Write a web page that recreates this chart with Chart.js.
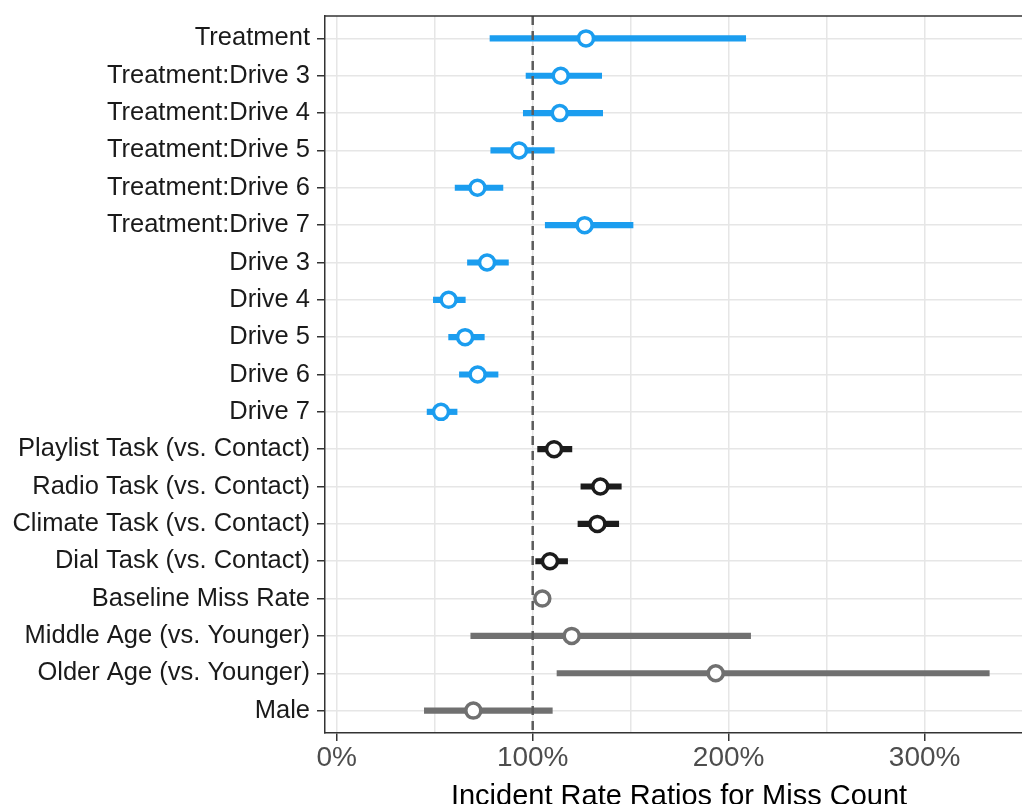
<!DOCTYPE html>
<html>
<head>
<meta charset="utf-8">
<script src="https://cdn.jsdelivr.net/npm/chart.js@4/dist/chart.umd.min.js"></script>
<style>
  html, body { margin: 0; padding: 0; background: #ffffff; overflow: hidden; }
  #wrap { width: 1022px; height: 804px; position: relative; }
</style>
</head>
<body>
<div id="wrap"><canvas id="c"></canvas></div>
<script>
// ---- data (incident rate ratios, 1 = 100%) ----
const categories = [
  'Treatment', 'Treatment:Drive 3', 'Treatment:Drive 4', 'Treatment:Drive 5',
  'Treatment:Drive 6', 'Treatment:Drive 7', 'Drive 3', 'Drive 4', 'Drive 5',
  'Drive 6', 'Drive 7', 'Playlist Task (vs. Contact)', 'Radio Task (vs. Contact)',
  'Climate Task (vs. Contact)', 'Dial Task (vs. Contact)', 'Baseline Miss Rate',
  'Middle Age (vs. Younger)', 'Older Age (vs. Younger)', 'Male'
];
const estimate = [1.272, 1.143, 1.138, 0.930, 0.718, 1.265, 0.767, 0.571, 0.655,
                  0.719, 0.532, 1.109, 1.345, 1.330, 1.088, 1.049, 1.199, 1.934, 0.697];
const lower    = [0.782, 0.966, 0.952, 0.786, 0.604, 1.064, 0.667, 0.493, 0.571,
                  0.626, 0.461, 1.025, 1.246, 1.231, 1.015, 1.036, 0.684, 1.124, 0.447];
const upper    = [2.087, 1.352, 1.357, 1.110, 0.848, 1.512, 0.876, 0.656, 0.753,
                  0.823, 0.614, 1.200, 1.452, 1.439, 1.178, 1.062, 2.112, 3.330, 1.100];
const groups   = ['drive','drive','drive','drive','drive','drive','drive','drive','drive',
                  'drive','drive','task','task','task','task','person','person','person','person'];
const xTickValues = [0, 1, 2, 3];
const xMinorValues = [0.5, 1.5, 2.5];
const referenceValue = 1;
const xTitle = 'Incident Rate Ratios for Miss Count';

// ---- styles ----
const groupColor = { drive: '#1b9def', task: '#1c1c1c', person: '#707070' };
const FONT = "'Liberation Sans', Arial, Helvetica, sans-serif";
const colorAt = i => groupColor[groups[i]];

const frame = {
  id: 'frame',
  afterDraw(chart) {
    const { ctx, chartArea } = chart;
    ctx.save();
    ctx.strokeStyle = '#333333';
    ctx.lineWidth = 1.5;
    ctx.beginPath();
    ctx.moveTo(chartArea.left, chartArea.top);
    ctx.lineTo(chartArea.right, chartArea.top);
    ctx.stroke();
    ctx.fillStyle = '#000000';
    ctx.font = '29px ' + FONT;
    ctx.textAlign = 'center';
    ctx.textBaseline = 'alphabetic';
    ctx.fillText(xTitle, 679, 805);
    ctx.restore();
  }
};

new Chart(document.getElementById('c'), {
  type: 'bar',
  data: {
    datasets: [
      {
        type: 'scatter',
        data: categories.map((c, i) => ({ x: estimate[i], y: i })),
        pointRadius: 7.5,
        pointHoverRadius: 7.5,
        pointBorderWidth: 3.5,
        pointBackgroundColor: '#ffffff',
        pointBorderColor: categories.map((c, i) => colorAt(i)),
        order: 0
      },
      {
        type: 'line',
        data: [{ x: referenceValue, y: -0.6 }, { x: referenceValue, y: 18.6 }],
        borderColor: '#5c5c5c',
        borderWidth: 2.5,
        borderDash: [9, 6],
        pointRadius: 0,
        fill: false,
        order: 1
      },
      {
        type: 'bar',
        data: categories.map((c, i) => ({ x: [lower[i], upper[i]], y: i })),
        backgroundColor: categories.map((c, i) => colorAt(i)),
        borderWidth: 0,
        borderSkipped: false,
        barThickness: 5.5,
        order: 2
      }
    ]
  },
  options: {
    indexAxis: 'y',
    responsive: true,
    maintainAspectRatio: false,
    animation: false,
    layout: { autoPadding: false, padding: { top: 16, right: 0, left: 0, bottom: 0 } },
    plugins: { legend: { display: false }, tooltip: { enabled: false } },
    scales: {
      x: {
        type: 'linear',
        position: 'bottom',
        min: -0.06,
        max: 3.497,
        offset: false,
        afterBuildTicks: s => {
          s.ticks = xTickValues.concat(xMinorValues).sort((a, b) => a - b).map(v => ({ value: v }));
        },
        afterFit: s => { s.height = 71; s.paddingLeft = 0; s.paddingRight = 0; },
        ticks: {
          autoSkip: false,
          maxRotation: 0,
          padding: 0,
          color: '#4d4d4d',
          font: { family: FONT, size: 28 },
          callback: v => xTickValues.includes(v) ? Math.round(v * 100) + '%' : ''
        },
        grid: {
          offset: false,
          color: '#e6e6e6',
          lineWidth: 1.5,
          tickLength: 8,
          tickWidth: 1.5,
          tickColor: ctx => (ctx.tick && xTickValues.includes(ctx.tick.value)) ? '#333333' : 'rgba(0,0,0,0)'
        },
        border: { color: '#333333', width: 1.5 }
      },
      y: {
        type: 'linear',
        min: -0.6,
        max: 18.6,
        reverse: true,
        offset: false,
        afterBuildTicks: s => { s.ticks = categories.map((c, i) => ({ value: i })); },
        afterFit: s => { s.width = 325; s.paddingTop = 0; s.paddingBottom = 0; },
        ticks: {
          autoSkip: false,
          padding: 7,
          color: '#1a1a1a',
          font: { family: FONT, size: 25.5 },
          callback: v => categories[v]
        },
        grid: {
          offset: false,
          color: '#e6e6e6',
          lineWidth: 1.5,
          tickLength: 8,
          tickWidth: 1.5,
          tickColor: '#333333'
        },
        border: { color: '#333333', width: 1.5 }
      }
    }
  },
  plugins: [frame]
});
</script>
</body>
</html>
